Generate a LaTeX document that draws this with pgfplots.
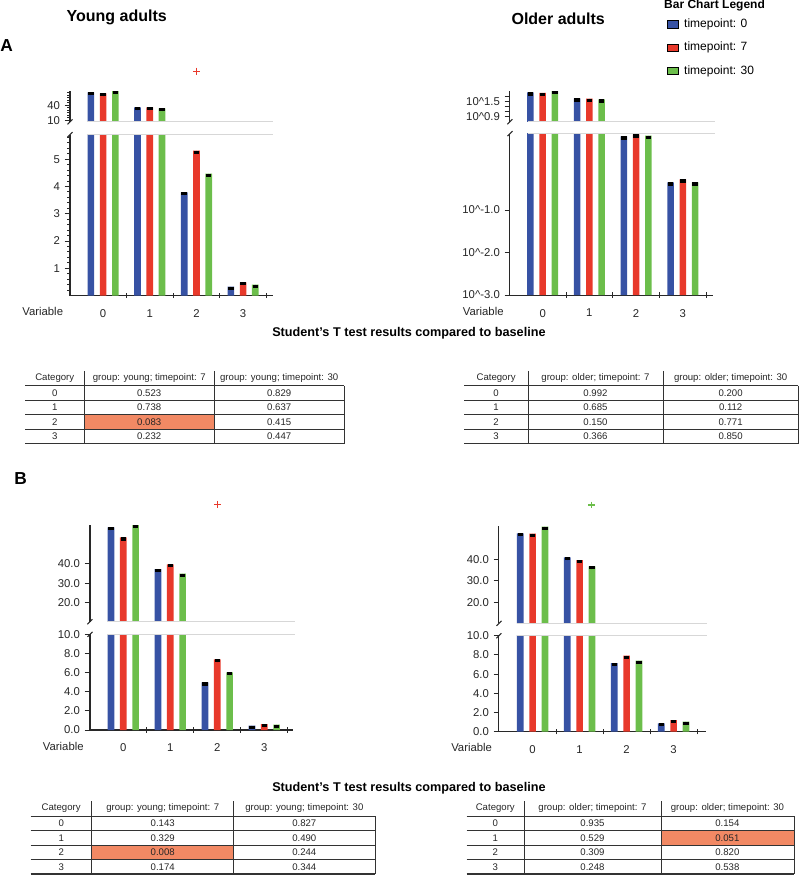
\documentclass[border=0pt]{standalone}
\usepackage{fontspec}
\setmainfont{Liberation Sans}
\usepackage{pgfplots}
\pgfplotsset{compat=1.18}
\definecolor{cblue}{RGB}{55,82,164}
\definecolor{cred}{RGB}{232,57,43}
\definecolor{cgreen}{RGB}{108,190,75}
\definecolor{hl}{RGB}{242,137,100}
\definecolor{axisc}{RGB}{40,40,40}
\definecolor{stripc}{RGB}{215,215,215}
\pgfplotsset{
  base/.style={scale only axis, anchor=south west, clip=true,
    axis line style={axisc, line width=0.8pt},
    tick style={axisc, line width=0.7pt},
    major tick length=4pt, minor tick length=2pt,
    tick label style={font=\fontsize{8.5}{10}\selectfont, text=black!85},
    /pgf/number format/assume math mode=true},
  bot/.style={base, axis x line*=bottom, axis y line*=left,
    xtick={0.5,1.5,2.5,3.5}, xticklabels={}, xtick align=center, ytick align=outside,
    extra x ticks={0,1,2,3}, extra x tick labels={0,1,2,3},
    extra x tick style={tick style={draw=none}},
    xticklabel style={yshift=-5pt}},
  topax/.style={base, axis x line=none, axis y line*=left, xtick=\empty, ytick align=outside},
  over/.style={scale only axis, anchor=south west, hide axis, clip=false},
  b0/.style={ybar, bar width=5pt, bar shift=0pt, fill=cblue, draw=none},
  b7/.style={ybar, bar width=5pt, bar shift=0pt, fill=cred, draw=none},
  b30/.style={ybar, bar width=5pt, bar shift=0pt, fill=cgreen, draw=none},
  cap/.style={error bars/y dir=minus, error bars/y explicit, error bars/error mark=none,
    error bars/error bar style={line width=4.2pt, black}},
  capr/.style={error bars/y dir=minus, error bars/y explicit relative, error bars/error mark=none,
    error bars/error bar style={line width=4.2pt, black}},
}
\newcommand{\tgrid}[5]{%
  \draw[tline] (#1,#5) -- (#4,#5);
  \foreach \k in {1,2,3} {\draw[tline] (#1,{#5+14.5*\k}) -- (#4,{#5+14.5*\k});}
  \draw[tline, line width=1.1pt] (#1,{#5+58}) -- (#4,{#5+58});
  \draw[tline] (#2,{#5-15}) -- (#2,{#5+58});
  \draw[tline] (#3,{#5-15}) -- (#3,{#5+58});
  \draw[tline] (#4,#5) -- (#4,{#5+58});
}
\newcommand{\trow}[8]{%
  \node[tt] at ({(#1+#2)/2},#5) {#6};
  \node[tt] at ({(#2+#3)/2},#5) {#7};
  \node[tt] at ({(#3+#4)/2},#5) {#8};
}
\begin{document}
\begin{tikzpicture}
\begin{scope}[x=0.75pt, y=-0.75pt]
\useasboundingbox (0,0) rectangle (800,884);
\end{scope}

% Bars of timepoint 0 / 7 / 30 sit at category - 0.262 / category / category + 0.262

% ================= A: young =================
\begin{axis}[bot, at={(52.5pt,-221.625pt)}, width=152.25pt, height=120.75pt,
  xmin=-0.71, xmax=3.64, ymin=0, ymax=5.9,
  ytick={1,2,3,4,5}, yticklabels={1,2,3,4,5}, minor ytick={0.2,0.4,0.6,0.8,1.2,1.4,1.6,1.8,2.2,2.4,2.6,2.8,3.2,3.4,3.6,3.8,4.2,4.4,4.6,4.8,5.2,5.4,5.6,5.8}]
\addplot[b0, cap] coordinates {(-0.262,65.4) +- (0,0.11) (0.738,35.4) +- (0,0.11) (1.738,3.78) +- (0,0.11) (2.738,0.33) +- (0,0.11)};
\addplot[b7, cap] coordinates {(0,63.4) +- (0,0.11) (1,35.4) +- (0,0.11) (2,5.31) +- (0,0.11) (3,0.48) +- (0,0.11)};
\addplot[b30, cap] coordinates {(0.262,68) +- (0,0.11) (1.262,33.4) +- (0,0.11) (2.262,4.47) +- (0,0.11) (3.262,0.40) +- (0,0.11)};
\end{axis}
\begin{axis}[topax, at={(52.5pt,-91.275pt)}, width=152.25pt, height=23.025pt,
  xmin=-0.71, xmax=3.64, ymin=6.6, ymax=68,
  ytick={10,40}, yticklabels={10,40}, minor ytick={15,20,25,30,35,45,50,55,60,65}]
\addplot[b0, cap] coordinates {(-0.262,65.4) +- (0,6) (0.738,35.4) +- (0,6)};
\addplot[b7, cap] coordinates {(0,63.4) +- (0,6) (1,35.4) +- (0,6)};
\addplot[b30, cap] coordinates {(0.262,68) +- (0,6) (1.262,33.4) +- (0,6)};
\end{axis}
\begin{axis}[over, at={(52.5pt,-91.275pt)}, width=152.25pt, height=23.025pt,
  xmin=-0.71, xmax=3.64, ymin=6.6, ymax=68]
\addplot[only marks, mark=+, mark size=2.6pt, cred, line width=0.7pt] coordinates {(2,108)};
\end{axis}

% ================= A: older (log) =================
\begin{axis}[bot, at={(382.5pt,-221.25pt)}, width=152.5pt, height=121.125pt,
  xmin=-0.70, xmax=3.65, ymode=log, log origin y=infty, ymin=0.001, ymax=6.31,
  ytick={0.001,0.01,0.1}, yticklabels={10\textasciicircum-3.0,10\textasciicircum-2.0,10\textasciicircum-1.0}, minor ytick={0.001}]
\addplot[b0, capr] coordinates {(-0.262,75.2) +- (0,0.16) (0.738,43.3) +- (0,0.16) (1.738,5.42) +- (0,0.16) (2.738,0.447) +- (0,0.16)};
\addplot[b7, capr] coordinates {(0,72.4) +- (0,0.16) (1,42.7) +- (0,0.16) (2,6.03) +- (0,0.16) (3,0.525) +- (0,0.16)};
\addplot[b30, capr] coordinates {(0.262,85.1) +- (0,0.16) (1.262,39.4) +- (0,0.16) (2.262,5.62) +- (0,0.16) (3.262,0.447) +- (0,0.16)};
\end{axis}
\begin{axis}[topax, at={(382.5pt,-91.275pt)}, width=152.5pt, height=23.06pt,
  xmin=-0.70, xmax=3.65, ymode=log, log origin y=infty, ymin=5.012, ymax=85.1,
  ytick={7.943,12.589,19.953,31.623,50.119}, yticklabels={10\textasciicircum0.9,,,10\textasciicircum1.5,}, minor ytick={7.943}]
\addplot[b0, capr] coordinates {(-0.262,75.2) +- (0,0.25) (0.738,43.3) +- (0,0.25)};
\addplot[b7, capr] coordinates {(0,72.4) +- (0,0.25) (1,42.7) +- (0,0.25)};
\addplot[b30, capr] coordinates {(0.262,85.1) +- (0,0.25) (1.262,39.4) +- (0,0.25)};
\end{axis}

% ================= B: young =================
\begin{axis}[bot, at={(67.5pt,-547.5pt)}, width=152.5pt, height=71.775pt,
  xmin=-0.709, xmax=3.617, ymin=0, ymax=10,
  ytick={0,2,4,6,8,10}, yticklabels={0.0,2.0,4.0,6.0,8.0,10.0}]
\addplot[b0, cap] coordinates {(-0.262,58.7) +- (0,0.32) (0.738,37.3) +- (0,0.32) (1.738,4.97) +- (0,0.32) (2.738,0.45) +- (0,0.32)};
\addplot[b7, cap] coordinates {(0,53.5) +- (0,0.32) (1,39.7) +- (0,0.32) (2,7.38) +- (0,0.32) (3,0.63) +- (0,0.32)};
\addplot[b30, cap] coordinates {(0.262,59.8) +- (0,0.32) (1.262,34.9) +- (0,0.32) (2.262,6.03) +- (0,0.32) (3.262,0.56) +- (0,0.32)};
\end{axis}
\begin{axis}[topax, at={(67.5pt,-466.275pt)}, width=152.5pt, height=72.75pt,
  xmin=-0.709, xmax=3.617, ymin=10.26, ymax=60,
  ytick={20,30,40}, yticklabels={20.0,30.0,40.0}]
\addplot[b0, cap] coordinates {(-0.262,58.7) +- (0,1.6) (0.738,37.3) +- (0,1.6)};
\addplot[b7, cap] coordinates {(0,53.5) +- (0,1.6) (1,39.7) +- (0,1.6)};
\addplot[b30, cap] coordinates {(0.262,59.8) +- (0,1.6) (1.262,34.9) +- (0,1.6)};
\end{axis}
\begin{axis}[over, at={(67.5pt,-466.275pt)}, width=152.5pt, height=72.75pt,
  xmin=-0.709, xmax=3.617, ymin=10.26, ymax=60]
\addplot[only marks, mark=+, mark size=2.6pt, cred, line width=0.7pt] coordinates {(2,70.5)};
\end{axis}

% ================= B: older =================
\begin{axis}[bot, at={(374.25pt,-548.775pt)}, width=155.25pt, height=72pt,
  xmin=-0.717, xmax=3.687, ymin=0, ymax=10,
  ytick={0,2,4,6,8,10}, yticklabels={0.0,2.0,4.0,6.0,8.0,10.0}]
\addplot[b0, cap] coordinates {(-0.262,52.1) +- (0,0.32) (0.738,40.9) +- (0,0.32) (1.738,7.16) +- (0,0.32) (2.738,0.875) +- (0,0.32)};
\addplot[b7, cap] coordinates {(0,52.0) +- (0,0.32) (1,39.7) +- (0,0.32) (2,7.92) +- (0,0.32) (3,1.22) +- (0,0.32)};
\addplot[b30, cap] coordinates {(0.262,55.2) +- (0,0.32) (1.262,36.7) +- (0,0.32) (2.262,7.4) +- (0,0.32) (3.262,1.04) +- (0,0.32)};
\end{axis}
\begin{axis}[topax, at={(374.25pt,-467.475pt)}, width=155.25pt, height=72.975pt,
  xmin=-0.717, xmax=3.687, ymin=10.23, ymax=55.5,
  ytick={20,30,40}, yticklabels={20.0,30.0,40.0}]
\addplot[b0, cap] coordinates {(-0.262,52.1) +- (0,1.4) (0.738,40.9) +- (0,1.4)};
\addplot[b7, cap] coordinates {(0,52.0) +- (0,1.4) (1,39.7) +- (0,1.4)};
\addplot[b30, cap] coordinates {(0.262,55.2) +- (0,1.4) (1.262,36.7) +- (0,1.4)};
\end{axis}
\begin{axis}[over, at={(374.25pt,-467.475pt)}, width=155.25pt, height=72.975pt,
  xmin=-0.717, xmax=3.687, ymin=10.23, ymax=55.5]
\addplot[only marks, mark=+, mark size=2.6pt, cgreen, line width=0.8pt] coordinates {(1.262,65.3)};
\end{axis}

% ================= decorations, text, tables =================
\begin{scope}[x=0.75pt, y=-0.75pt,
  tline/.style={black!80, line width=0.6pt},
  tt/.style={font=\fontsize{7.2}{8}\selectfont, text=black!85, inner sep=0pt},
  lab/.style={font=\fontsize{8.5}{10}\selectfont, text=black!85, inner sep=0pt}]
% strips
\draw[stripc, line width=0.6pt] (86.7,121.7) -- (273,121.7) (86.7,134.5) -- (273,134.5);
\draw[stripc, line width=0.6pt] (527.7,121.7) -- (715,121.7) (527.7,133.5) -- (715,133.5);
\draw[stripc, line width=0.6pt] (107.3,621.7) -- (295,621.7) (107.3,634.3) -- (295,634.3);
\draw[stripc, line width=0.6pt] (516.7,623.3) -- (706.7,623.3) (516.7,635.7) -- (706.7,635.7);
% break marks
\foreach \bx/\by in {70/121.7,70/134.5,510/121.7,510/133.5,90/621.7,90/634.3,499/623.3,499/635.7}
  {\draw[axisc, line width=0.8pt] (\bx-2.5,\by+2.5) -- (\bx+2.5,\by-2.5);}
% titles
\node[font=\bfseries\fontsize{12}{14}\selectfont] at (116.7,17.7) {Young adults};
\node[font=\bfseries\fontsize{12}{14}\selectfont] at (558.3,18.3) {Older adults};
\node[font=\bfseries\fontsize{13}{15}\selectfont, anchor=west, inner sep=0pt] at (0,45) {A};
\node[font=\bfseries\fontsize{13}{15}\selectfont, anchor=west, inner sep=0pt] at (14,478.3) {B};
% Variable labels
\node[lab] at (42.7,311.7) {Variable};
\node[lab] at (483.3,311) {Variable};
\node[lab] at (63.3,746.7) {Variable};
\node[lab] at (471.7,747.7) {Variable};
% legend
\node[font=\bfseries\fontsize{9}{11}\selectfont, anchor=west, inner sep=0pt] at (664,5.5) {Bar Chart Legend};
\foreach \c/\yy/\t in {cblue/24.3/0, cred/47.7/7, cgreen/71/30} {
  \draw[fill=\c, draw=black, line width=0.5pt] (667.7,\yy-3.7) rectangle (678.3,\yy+3.7);
  \node[font=\fontsize{9}{11}\selectfont, anchor=west, inner sep=0pt] at (684,\yy) {timepoint: \t};
}
% section titles
\node[font=\bfseries\fontsize{9.5}{11}\selectfont] at (409,333) {Student’s T test results compared to baseline};
\node[font=\bfseries\fontsize{9.5}{11}\selectfont] at (409,788) {Student’s T test results compared to baseline};
% tables A
\fill[hl] (84,414.7) rectangle (214.5,429.2);
\tgrid{25.5}{84}{214.5}{344}{385.7}
\trow{25.5}{84}{214.5}{344}{377.7}{Category}{group: young; timepoint: 7}{group: young; timepoint: 30}
\trow{25.5}{84}{214.5}{344}{392.95}{0}{0.523}{0.829}
\trow{25.5}{84}{214.5}{344}{407.45}{1}{0.738}{0.637}
\trow{25.5}{84}{214.5}{344}{421.95}{2}{0.083}{0.415}
\trow{25.5}{84}{214.5}{344}{436.45}{3}{0.232}{0.447}
\tgrid{464.3}{528}{663}{798.5}{385.7}
\trow{464.3}{528}{663}{798.5}{377.7}{Category}{group: older; timepoint: 7}{group: older; timepoint: 30}
\trow{464.3}{528}{663}{798.5}{392.95}{0}{0.992}{0.200}
\trow{464.3}{528}{663}{798.5}{407.45}{1}{0.685}{0.112}
\trow{464.3}{528}{663}{798.5}{421.95}{2}{0.150}{0.771}
\trow{464.3}{528}{663}{798.5}{436.45}{3}{0.366}{0.850}
% tables B
\fill[hl] (91.8,845) rectangle (233.7,859.5);
\tgrid{30.6}{91.8}{233.7}{375}{816}
\trow{30.6}{91.8}{233.7}{375}{808}{Category}{group: young; timepoint: 7}{group: young; timepoint: 30}
\trow{30.6}{91.8}{233.7}{375}{823.25}{0}{0.143}{0.827}
\trow{30.6}{91.8}{233.7}{375}{837.75}{1}{0.329}{0.490}
\trow{30.6}{91.8}{233.7}{375}{852.25}{2}{0.008}{0.244}
\trow{30.6}{91.8}{233.7}{375}{866.75}{3}{0.174}{0.344}
\fill[hl] (661,830.5) rectangle (794,845);
\tgrid{466.7}{524}{661}{794}{816}
\trow{466.7}{524}{661}{794}{808}{Category}{group: older; timepoint: 7}{group: older; timepoint: 30}
\trow{466.7}{524}{661}{794}{823.25}{0}{0.935}{0.154}
\trow{466.7}{524}{661}{794}{837.75}{1}{0.529}{0.051}
\trow{466.7}{524}{661}{794}{852.25}{2}{0.309}{0.820}
\trow{466.7}{524}{661}{794}{866.75}{3}{0.248}{0.538}
\end{scope}
\end{tikzpicture}
\end{document}
